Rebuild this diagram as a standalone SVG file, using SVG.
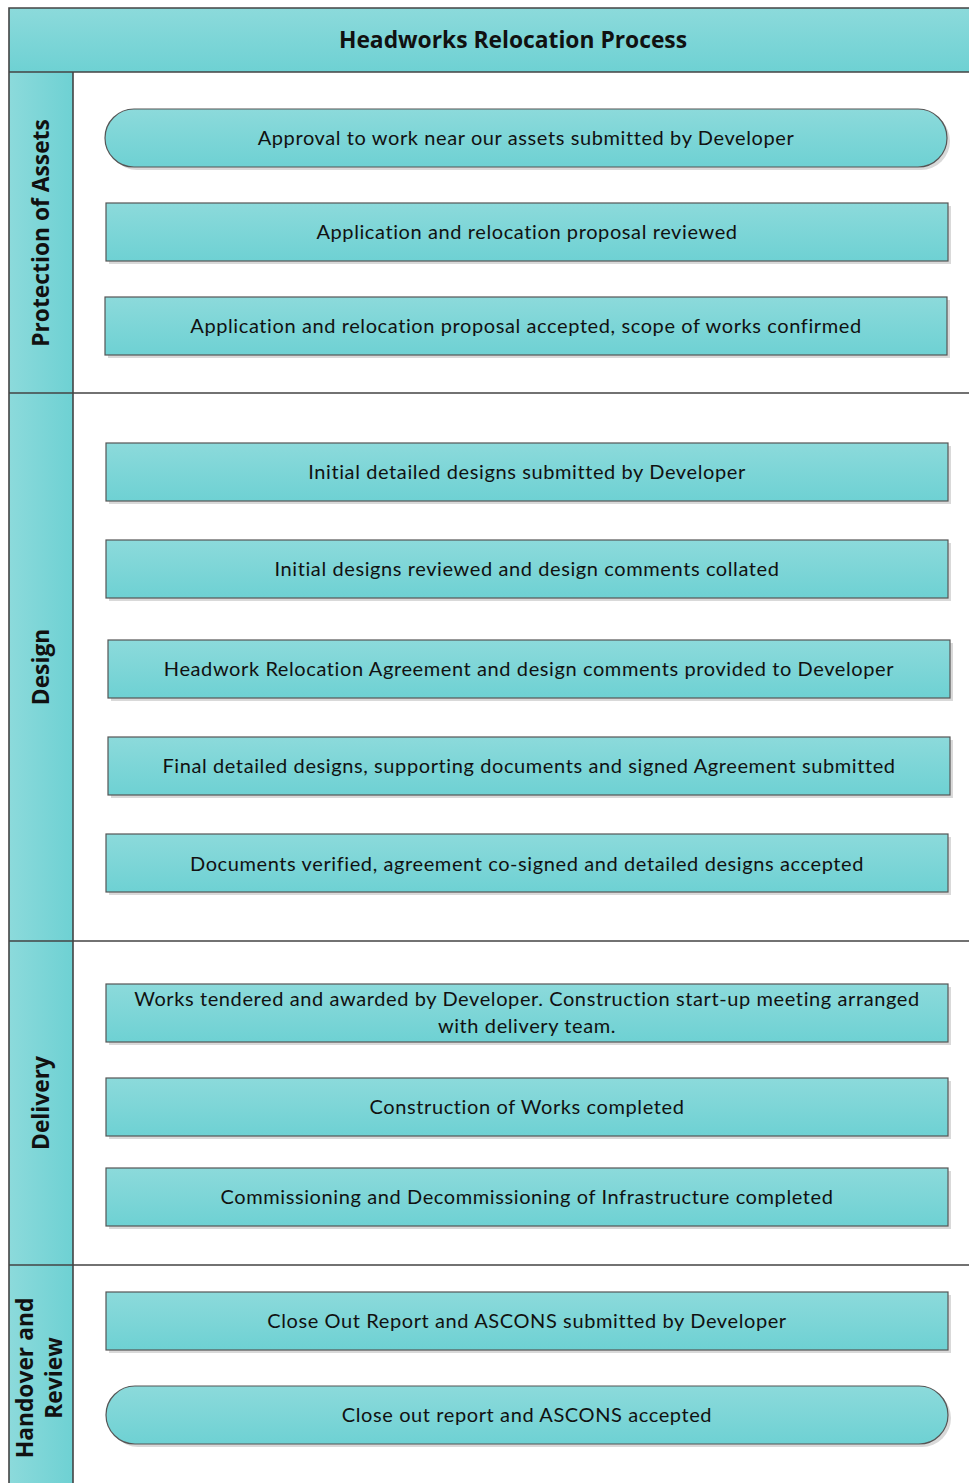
<svg xmlns="http://www.w3.org/2000/svg" width="969" height="1483" viewBox="0 0 969 1483">
<defs>
<linearGradient id="gv" x1="0" y1="0" x2="0" y2="1"><stop offset="0" stop-color="#8cdadb"/><stop offset="1" stop-color="#6ed1d3"/></linearGradient>
<linearGradient id="gh" x1="0" y1="0" x2="1" y2="0"><stop offset="0" stop-color="#8cdadb"/><stop offset="1" stop-color="#6ed1d3"/></linearGradient>
</defs>
<style>
.box{fill:url(#gv);stroke:#555;stroke-width:1.2}
.sh{fill:#d9d9d9}
.t{font-family:Lato,"Open Sans",sans-serif;font-size:20px;fill:#111;text-anchor:middle;letter-spacing:0.6px}
.lane{font-family:"Open Sans",Lato,sans-serif;font-size:22.8px;font-weight:bold;fill:#111;text-anchor:middle}
.line{stroke:#444;stroke-width:1.6;fill:none}
</style>
<rect width="969" height="1483" fill="#fff"/>
<g id="pool">
<rect x="9" y="8" width="970" height="64" fill="url(#gv)"/>
<rect x="9" y="72" width="64" height="1420" fill="url(#gh)"/>
<path class="line" d="M9 1492V8H979M9 72H979M73 72V1492M9 393H979M9 941H979M9 1265H979"/>
<text x="513" y="48" font-family="'Open Sans',Lato,sans-serif" font-size="22.8" font-weight="bold" fill="#111" text-anchor="middle">Headworks Relocation Process</text>
</g>
<g id="lane-protection"><text class="lane" transform="translate(49,233) rotate(-90)">Protection of Assets</text></g>
<g id="lane-design"><text class="lane" transform="translate(49,667) rotate(-90)">Design</text></g>
<g id="lane-delivery"><text class="lane" transform="translate(49,1103) rotate(-90)">Delivery</text></g>
<g id="lane-handover"><text class="lane" transform="translate(33,1378) rotate(-90)">Handover and</text><text class="lane" transform="translate(62,1378) rotate(-90)">Review</text></g>
<g id="connectors"></g>
<g id="n1"><rect class="sh" x="108" y="112" width="842" height="58" rx="29"/><rect class="box" x="105" y="109" width="842" height="58" rx="29"/><text class="t" x="526" y="145">Approval to work near our assets submitted by Developer</text></g>
<g id="n2"><rect class="sh" x="109" y="206" width="842" height="58"/><rect class="box" x="106" y="203" width="842" height="58"/><text class="t" x="527" y="239">Application and relocation proposal reviewed</text></g>
<g id="n3"><rect class="sh" x="108" y="300" width="842" height="58"/><rect class="box" x="105" y="297" width="842" height="58"/><text class="t" x="526" y="333">Application and relocation proposal accepted, scope of works confirmed</text></g>
<g id="n4"><rect class="sh" x="109" y="446" width="842" height="58"/><rect class="box" x="106" y="443" width="842" height="58"/><text class="t" x="527" y="479">Initial detailed designs submitted by Developer</text></g>
<g id="n5"><rect class="sh" x="109" y="543" width="842" height="58"/><rect class="box" x="106" y="540" width="842" height="58"/><text class="t" x="527" y="576">Initial designs reviewed and design comments collated</text></g>
<g id="n6"><rect class="sh" x="111" y="643" width="842" height="58"/><rect class="box" x="108" y="640" width="842" height="58"/><text class="t" x="529" y="676">Headwork Relocation Agreement and design comments provided to Developer</text></g>
<g id="n7"><rect class="sh" x="111" y="740" width="842" height="58"/><rect class="box" x="108" y="737" width="842" height="58"/><text class="t" x="529" y="773">Final detailed designs, supporting documents and signed Agreement submitted</text></g>
<g id="n8"><rect class="sh" x="109" y="837" width="842" height="58"/><rect class="box" x="106" y="834" width="842" height="58"/><text class="t" x="527" y="871">Documents verified, agreement co-signed and detailed designs accepted</text></g>
<g id="n9"><rect class="sh" x="109" y="987" width="842" height="58"/><rect class="box" x="106" y="984" width="842" height="58"/><text class="t" x="527" y="1006">Works tendered and awarded by Developer. Construction start-up meeting arranged</text><text class="t" x="527" y="1033">with delivery team.</text></g>
<g id="n10"><rect class="sh" x="109" y="1081" width="842" height="58"/><rect class="box" x="106" y="1078" width="842" height="58"/><text class="t" x="527" y="1114">Construction of Works completed</text></g>
<g id="n11"><rect class="sh" x="109" y="1171" width="842" height="58"/><rect class="box" x="106" y="1168" width="842" height="58"/><text class="t" x="527" y="1204">Commissioning and Decommissioning of Infrastructure completed</text></g>
<g id="n12"><rect class="sh" x="109" y="1295" width="842" height="58"/><rect class="box" x="106" y="1292" width="842" height="58"/><text class="t" x="527" y="1328">Close Out Report and ASCONS submitted by Developer</text></g>
<g id="n13"><rect class="sh" x="109" y="1389" width="842" height="58" rx="29"/><rect class="box" x="106" y="1386" width="842" height="58" rx="29"/><text class="t" x="527" y="1422">Close out report and ASCONS accepted</text></g>
</svg>
